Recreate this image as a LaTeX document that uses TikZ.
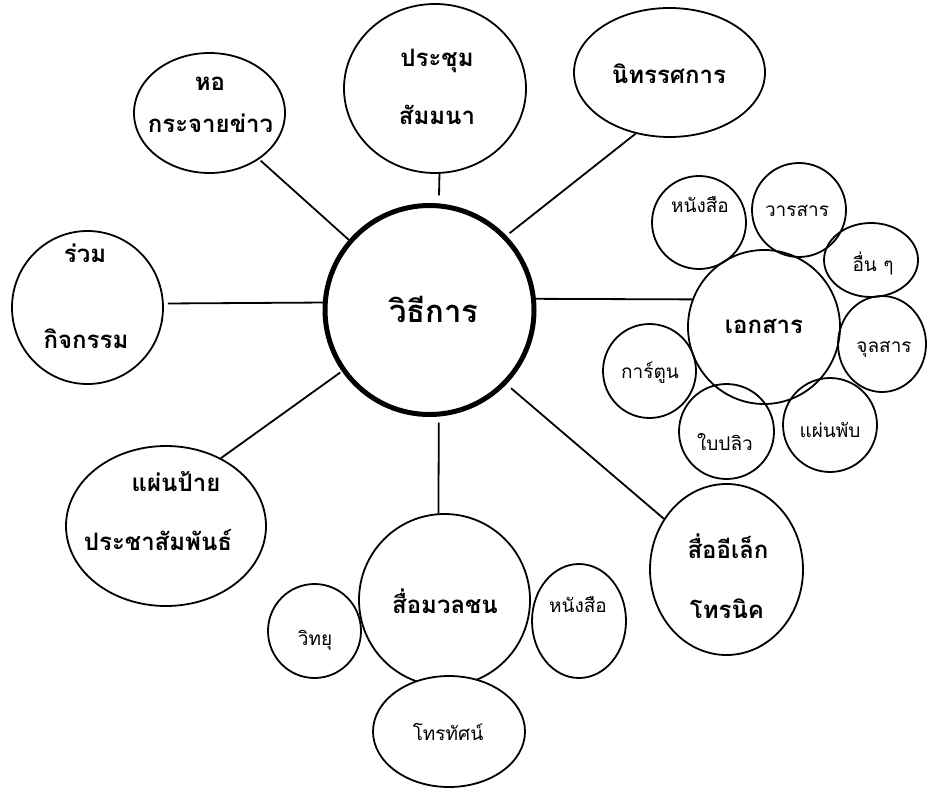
\documentclass[tikz,border=0pt]{standalone}
\usepackage{fontspec}
\newfontfamily\thai[Script=Thai]{Loma}
\usetikzlibrary{shapes.geometric}
\begin{document}
\begin{tikzpicture}[x=1pt,y=-1pt,
  ell/.style={draw,ellipse,line width=1.8pt,inner sep=0pt},
  hub/.style={draw,circle,line width=5pt,inner sep=0pt,minimum size=209pt},
  conn/.style={line width=1.8pt},
  bt/.style={font=\thai\bfseries\fontsize{24}{28}\selectfont,anchor=base,inner sep=0pt},
  rt/.style={font=\thai\fontsize{19}{23}\selectfont,anchor=base,inner sep=0pt},
  hubt/.style={font=\thai\bfseries\fontsize{31}{36}\selectfont,anchor=base,inner sep=0pt}]
\useasboundingbox[fill=white] (0,0) rectangle (928,791);
% hub
\node[hub] (c) at (429.5,310) {};
% main ellipses
\node[ell,minimum width=151pt,minimum height=120pt] (ho) at (209.5,113) {};
\node[ell,minimum width=182pt,minimum height=169pt] (pr) at (435,88.5) {};
\node[ell,minimum width=191pt,minimum height=129pt] (ni) at (669.5,72.5) {};
\node[ell,minimum width=151pt,minimum height=153pt] (ru) at (87.5,307.5) {};
\node[ell,minimum width=200pt,minimum height=160pt] (pp) at (166,526) {};
\node[ell,minimum width=171pt,minimum height=172pt] (sm) at (444.5,600) {};
\node[ell,minimum width=153pt,minimum height=171pt] (el) at (726.5,569.5) {};
\node[ell,minimum width=152pt,minimum height=154pt] (ek) at (764,327) {};
% sub ellipses
\node[ell,minimum width=93pt,minimum height=94pt] (wi) at (314.5,631) {};
\node[ell,fill=white,minimum width=152pt,minimum height=111pt] (tv) at (449,731.5) {};
\node[ell,minimum width=94pt,minimum height=114pt] (nb) at (579,621) {};
\node[ell,minimum width=94pt,minimum height=93pt] (hn) at (699,222.5) {};
\node[ell,minimum width=94pt,minimum height=94pt] (ws) at (799,210) {};
\node[ell,minimum width=94pt,minimum height=74pt] (ue) at (871,260) {};
\node[ell,minimum width=88pt,minimum height=96pt] (ju) at (882,344) {};
\node[ell,minimum width=93pt,minimum height=94pt] (ka) at (649.5,371) {};
\node[ell,minimum width=95pt,minimum height=95pt] (bp) at (726.5,431.5) {};
\node[ell,minimum width=94pt,minimum height=94pt] (pb) at (830,425) {};
% connectors
\draw[conn,shorten <=2pt] (ho.-43) -- (c.139);
\draw[conn,shorten >=8pt] (pr.-87) -- (c.85);
\draw[conn,shorten >=4pt] (ni.241.8) -- (c.44.3);
\draw[conn,shorten <=4pt] (ru.3) -- (c.176);
\draw[conn] (c.6) -- (ek.159);
\draw[conn,shorten >=2pt] (pp.51) -- (c.215);
\draw[conn,shorten <=6pt] (c.-85) -- (sm.94);
\draw[conn,shorten <=6pt] (c.-44.8) -- (el.141.5);
% texts
\node[hubt] (tc) at (434,323) {วิธีการ};
\node[bt] (t1) at (210,91) {หอ};
\node[bt] (t2) at (210.5,133) {กระจายข่าว};
\node[bt] (t3) at (437,67) {ประชุม};
\node[bt] (t4) at (437,125) {สัมมนา};
\node[bt] (t5) at (669,84) {นิทรรศการ};
\node[bt] (t6) at (85,263) {ร่วม};
\node[bt] (t7) at (86,348) {กิจกรรม};
\node[bt] (t8) at (764,333) {เอกสาร};
\node[bt] (t9) at (176,491) {แผ่นป้าย};
\node[bt] (t10) at (158,550) {ประชาสัมพันธ์};
\node[bt] (t11) at (445,613) {สื่อมวลชน};
\node[bt] (t12) at (728,558) {สื่ออีเล็ก};
\node[bt] (t13) at (727,618) {โทรนิค};
\node[rt] (s1) at (700,213) {หนังสือ};
\node[rt] (s2) at (797,217) {วารสาร};
\node[rt] (s3) at (873,272) {อื่น ๆ};
\node[rt] (s4) at (884,352) {จุลสาร};
\node[rt] (s5) at (650,378) {การ์ตูน};
\node[rt] (s6) at (725,450) {ใบปลิว};
\node[rt] (s7) at (830,437) {แผ่นพับ};
\node[rt] (s8) at (315,645) {วิทยุ};
\node[rt] (s9) at (448,740) {โทรทัศน์};
\node[rt] (s10) at (578,612) {หนังสือ};
\end{tikzpicture}
\end{document}
